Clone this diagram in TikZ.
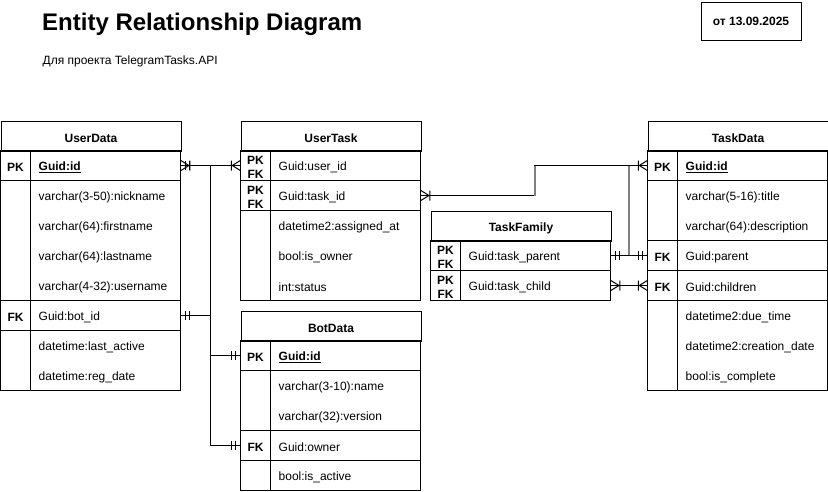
\documentclass[tikz,border=0pt]{standalone}
\usepackage{fontspec}
\setmainfont{Liberation Sans}
\newcommand\erfs{\fontsize{12pt}{14pt}\selectfont}
\newcommand\erst{\rule[-1pt]{0pt}{14pt}}
\newcommand\ermandone[2]{\begin{scope}[shift={(#1)},xscale=#2]\draw[ln] (5,-4.5) -- (5,4.5) (9,-4.5) -- (9,4.5);\end{scope}}
\newcommand\eronemany[2]{\begin{scope}[shift={(#1)},xscale=#2]\draw[ln] (0,-5) -- (8,0) -- (0,5) (9,-5) -- (9,5);\end{scope}}
\tikzset{
  ln/.style={line width=1pt, draw=black},
  gl/.style={line width=1.4pt, draw=black!50},
  hdr/.style={draw, line width=1pt, anchor=north west, minimum width=180pt, minimum height=30pt, inner sep=0pt, font=\erfs\bfseries, execute at begin node=\erst},
  key/.style={minimum width=30pt, minimum height=30pt, inner sep=0pt, font=\erfs\bfseries, align=center, execute at begin node=\erst},
  keyb/.style={minimum width=30pt, minimum height=30pt, inner sep=0pt, font=\erfs\bfseries, align=center},
  keybt/.style={inner sep=0pt, font=\erfs\bfseries, align=center, yshift=-1.5pt},
  fld/.style={anchor=west, text width=134pt, inner xsep=8pt, inner ysep=0pt, minimum height=30pt, align=left, font=\erfs, execute at begin node=\erst},
}
\begin{document}
\begin{tikzpicture}[x=1pt,y=-1pt]
\useasboundingbox (0,0) rectangle (828,491);
% title
\node[anchor=base west, inner sep=0pt, font=\fontsize{24pt}{28pt}\selectfont\bfseries] (title) at (42,30.5) {Entity Relationship Diagram};
\node[anchor=base west, inner sep=0pt, font=\erfs] (sub) at (42.5,64) {Для проекта TelegramTasks.API};
\node[draw, line width=1pt, anchor=north west, minimum width=100pt, minimum height=38.5pt, inner sep=0pt, font=\erfs\bfseries] (date) at (700.5,1.5) {от 13.09.2025};

% ---------- UserData
\node[hdr] (ud) at (0.5,120.5) {UserData};
\draw[ln] (0.5,150.5) rectangle (180.5,390.5);
\draw[ln] (30.5,150.5) -- (30.5,390.5);
\draw[ln] (0.5,180.5) -- (180.5,180.5) (0.5,300.5) -- (180.5,300.5) (0.5,330.5) -- (180.5,330.5);
\node[key] (ud-id-k) at (15.5,165.5) {PK};
\node[fld] (ud-id) at (30.5,165.5) {\textbf{\underline{Guid:id}}};
\node[fld] (ud-nick) at (30.5,195.5) {varchar(3-50):nickname};
\node[fld] (ud-first) at (30.5,225.5) {varchar(64):firstname};
\node[fld] (ud-last) at (30.5,255.5) {varchar(64):lastname};
\node[fld] (ud-user) at (30.5,285.5) {varchar(4-32):username};
\node[key] (ud-bot-k) at (15.5,315.5) {FK};
\node[fld] (ud-bot) at (30.5,315.5) {Guid:bot\_id};
\node[fld] (ud-act) at (30.5,345.5) {datetime:last\_active};
\node[fld] (ud-reg) at (30.5,375.5) {datetime:reg\_date};

% ---------- UserTask
\node[hdr] (ut) at (240.5,120.5) {UserTask};
\draw[ln] (240.5,150.5) rectangle (420.5,300.5);
\draw[ln] (270.5,150.5) -- (270.5,300.5);
\draw[ln] (240.5,180.5) -- (420.5,180.5) (240.5,210.5) -- (420.5,210.5);
\node[keyb] (ut-user-k) at (255.5,165.5) {};
\node[keybt] at (ut-user-k) {PK\\FK};
\node[fld] (ut-user) at (270.5,165.5) {Guid:user\_id};
\node[keyb] (ut-task-k) at (255.5,195.5) {};
\node[keybt] at (ut-task-k) {PK\\FK};
\node[fld] (ut-task) at (270.5,195.5) {Guid:task\_id};
\node[fld] (ut-asg) at (270.5,225.5) {datetime2:assigned\_at};
\node[fld] (ut-own) at (270.5,255.5) {bool:is\_owner};
\node[fld] (ut-st) at (270.5,285.5) {int:status};

% ---------- BotData
\node[hdr] (bd) at (240.5,310.5) {BotData};
\draw[ln] (240.5,340.5) rectangle (420.5,490.5);
\draw[ln] (270.5,340.5) -- (270.5,490.5);
\draw[ln] (240.5,370.5) -- (420.5,370.5) (240.5,430.5) -- (420.5,430.5) (240.5,460.5) -- (420.5,460.5);
\node[key] (bd-id-k) at (255.5,355.5) {PK};
\node[fld] (bd-id) at (270.5,355.5) {\textbf{\underline{Guid:id}}};
\node[fld] (bd-name) at (270.5,385.5) {varchar(3-10):name};
\node[fld] (bd-ver) at (270.5,415.5) {varchar(32):version};
\node[key] (bd-owner-k) at (255.5,445.5) {FK};
\node[fld] (bd-owner) at (270.5,445.5) {Guid:owner};
\node[fld] (bd-act) at (270.5,475.5) {bool:is\_active};

% ---------- TaskFamily
\node[hdr] (tf) at (430.5,210.5) {TaskFamily};
\draw[ln] (430.5,240.5) rectangle (610.5,300.5);
\draw[ln] (460.5,240.5) -- (460.5,300.5);
\draw[ln] (430.5,270.5) -- (610.5,270.5);
\node[keyb] (tf-parent-k) at (445.5,255.5) {};
\node[keybt] at (tf-parent-k) {PK\\FK};
\node[fld] (tf-parent) at (460.5,255.5) {Guid:task\_parent};
\node[keyb] (tf-child-k) at (445.5,285.5) {};
\node[keybt] at (tf-child-k) {PK\\FK};
\node[fld] (tf-child) at (460.5,285.5) {Guid:task\_child};

% ---------- TaskData
\node[hdr] (td) at (647.5,120.5) {TaskData};
\draw[ln] (647.5,150.5) rectangle (827.5,390.5);
\draw[ln] (677.5,150.5) -- (677.5,390.5);
\draw[ln] (647.5,180.5) -- (827.5,180.5) (647.5,240.5) -- (827.5,240.5) (647.5,270.5) -- (827.5,270.5) (647.5,300.5) -- (827.5,300.5);
\node[key] (td-id-k) at (662.5,165.5) {PK};
\node[fld] (td-id) at (677.5,165.5) {\textbf{\underline{Guid:id}}};
\node[fld] (td-title) at (677.5,195.5) {varchar(5-16):title};
\node[fld] (td-desc) at (677.5,225.5) {varchar(64):description};
\node[key] (td-parent-k) at (662.5,255.5) {FK};
\node[fld] (td-parent) at (677.5,255.5) {Guid:parent};
\node[key] (td-child-k) at (662.5,285.5) {FK};
\node[fld] (td-child) at (677.5,285.5) {Guid:children};
\node[fld] (td-due) at (677.5,315.5) {datetime2:due\_time};
\node[fld] (td-cre) at (677.5,345.5) {datetime2:creation\_date};
\node[fld] (td-comp) at (677.5,375.5) {bool:is\_complete};

% ---------- connectors
\draw[ln] (ud-id.east) -- (ut-user-k.west);
\draw[ln] (ud-id.east) -- ++(30,0) |- (bd-owner-k.west);
\draw[ln] (ud-bot.east) -- ++(30,0) |- (bd-id-k.west);
\draw[ln] (ut-task.east) -- ++(114,0) coordinate (g1) |- (td-id-k.west);
\draw[gl] (g1) -- (g1 |- td-id-k.west);
\draw[ln] (tf-parent.east) -- ++(18,0) coordinate (g2) |- (td-id-k.west);
\draw[gl] (g2) -- (g2 |- td-id-k.west);
\draw[ln] (tf-parent.east) -- (td-parent-k.west);
\draw[ln] (tf-child.east) -- (td-child-k.west);

% ---------- markers
\ermandone{ud-id.east}{1}
\eronemany{ud-id.east}{1}
\eronemany{ut-user-k.west}{-1}
\ermandone{bd-owner-k.west}{-1}
\ermandone{ud-bot.east}{1}
\ermandone{bd-id-k.west}{-1}
\eronemany{ut-task.east}{1}
\eronemany{td-id-k.west}{-1}
\ermandone{tf-parent.east}{1}
\ermandone{td-parent-k.west}{-1}
\eronemany{tf-child.east}{1}
\eronemany{td-child-k.west}{-1}
\end{tikzpicture}
\end{document}
